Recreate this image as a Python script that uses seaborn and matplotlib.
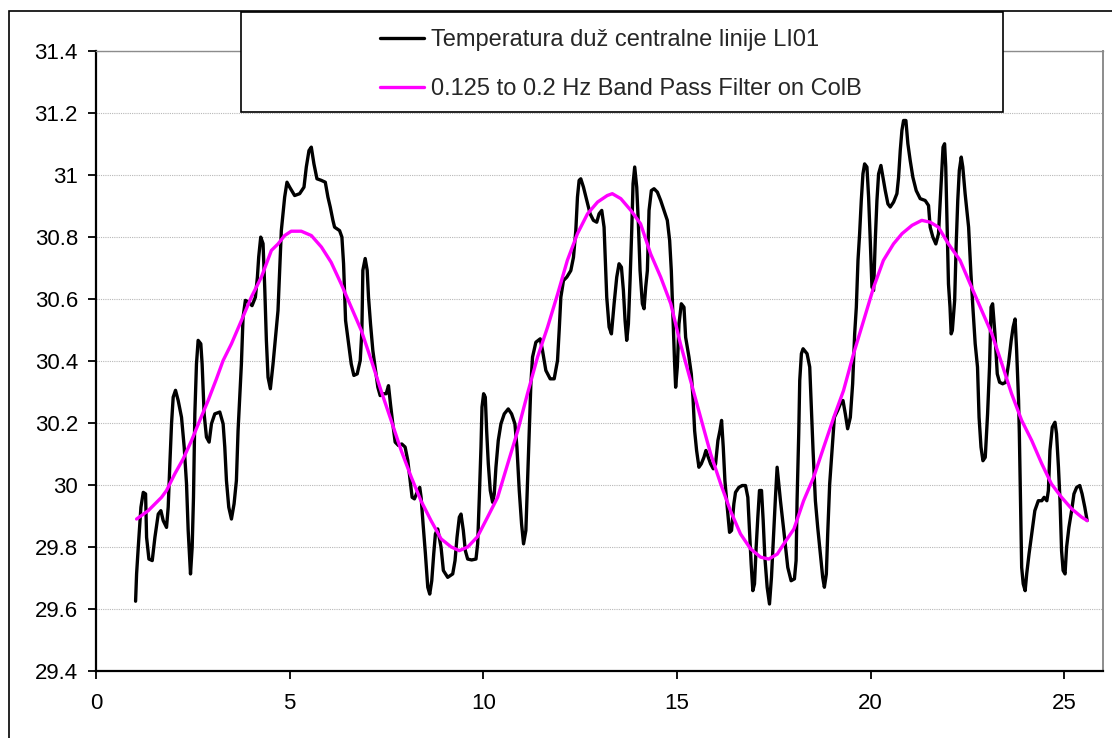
import matplotlib
matplotlib.use("Agg")
import matplotlib.pyplot as plt
from matplotlib.patches import Rectangle
from matplotlib.ticker import FuncFormatter
import pandas as pd
import seaborn as sns

# Measured temperature along the centre line (time in s, temperature)
time_s = [
    1.022, 1.048, 1.091, 1.160, 1.220, 1.280, 1.306, 1.366, 1.452, 1.521,
    1.607, 1.675, 1.735, 1.821, 1.864, 1.907, 1.950, 1.993, 2.053, 2.122,
    2.208, 2.277, 2.337, 2.380, 2.440, 2.483, 2.517, 2.552, 2.594, 2.637,
    2.706, 2.740, 2.792, 2.852, 2.921, 2.981, 3.067, 3.196, 3.282, 3.325,
    3.368, 3.428, 3.497, 3.565, 3.625, 3.668, 3.711, 3.754, 3.797, 3.857,
    3.943, 4.029, 4.115, 4.167, 4.201, 4.253, 4.313, 4.356, 4.399, 4.442,
    4.502, 4.571, 4.699, 4.785, 4.871, 4.931, 5.000, 5.129, 5.258, 5.370,
    5.430, 5.499, 5.559, 5.627, 5.705, 5.816, 5.920, 5.988, 6.048, 6.117,
    6.160, 6.289, 6.349, 6.392, 6.444, 6.521, 6.590, 6.658, 6.744, 6.822,
    6.865, 6.890, 6.950, 7.002, 7.036, 7.088, 7.148, 7.217, 7.277, 7.337,
    7.423, 7.492, 7.552, 7.603, 7.663, 7.724, 7.810, 7.895, 7.981, 8.050,
    8.110, 8.162, 8.222, 8.291, 8.359, 8.394, 8.445, 8.505, 8.566, 8.617,
    8.669, 8.720, 8.763, 8.823, 8.909, 8.969, 9.081, 9.210, 9.270, 9.321,
    9.381, 9.424, 9.484, 9.536, 9.596, 9.699, 9.811, 9.854, 9.897, 9.940,
    9.966, 10.008, 10.051, 10.086, 10.129, 10.180, 10.240, 10.283, 10.326, 10.386,
    10.455, 10.541, 10.644, 10.730, 10.816, 10.868, 10.928, 10.988, 11.039, 11.099,
    11.142, 11.185, 11.228, 11.271, 11.357, 11.469, 11.529, 11.615, 11.727, 11.830,
    11.916, 11.959, 12.002, 12.070, 12.156, 12.259, 12.328, 12.388, 12.431, 12.474,
    12.517, 12.586, 12.672, 12.758, 12.843, 12.929, 12.989, 13.058, 13.118, 13.187,
    13.248, 13.308, 13.377, 13.445, 13.505, 13.566, 13.617, 13.660, 13.703, 13.746,
    13.789, 13.832, 13.866, 13.909, 13.961, 14.004, 14.047, 14.107, 14.150, 14.193,
    14.236, 14.279, 14.339, 14.408, 14.494, 14.580, 14.665, 14.751, 14.811, 14.854,
    14.897, 14.940, 14.966, 15.009, 15.052, 15.112, 15.181, 15.224, 15.310, 15.370,
    15.413, 15.456, 15.507, 15.567, 15.628, 15.696, 15.748, 15.808, 15.868, 15.937,
    15.997, 16.057, 16.109, 16.152, 16.195, 16.238, 16.298, 16.358, 16.409, 16.469,
    16.512, 16.598, 16.684, 16.770, 16.830, 16.873, 16.916, 16.959, 17.002, 17.045,
    17.088, 17.131, 17.183, 17.226, 17.269, 17.329, 17.389, 17.440, 17.500, 17.543,
    17.586, 17.672, 17.758, 17.861, 17.947, 18.033, 18.076, 18.101, 18.144, 18.170,
    18.213, 18.256, 18.359, 18.428, 18.462, 18.514, 18.574, 18.634, 18.703, 18.763,
    18.806, 18.857, 18.892, 18.943, 19.003, 19.064, 19.149, 19.218, 19.287, 19.347,
    19.407, 19.476, 19.536, 19.588, 19.631, 19.674, 19.716, 19.759, 19.802, 19.845,
    19.905, 19.948, 19.991, 20.034, 20.077, 20.120, 20.163, 20.206, 20.266, 20.318,
    20.378, 20.447, 20.507, 20.593, 20.679, 20.722, 20.765, 20.808, 20.851, 20.911,
    20.962, 21.022, 21.091, 21.177, 21.280, 21.409, 21.495, 21.538, 21.607, 21.684,
    21.753, 21.82, 21.87, 21.91, 21.94, 21.98, 22.01, 22.05, 22.08, 22.11,
    22.17, 22.21, 22.25, 22.29, 22.34, 22.38, 22.44, 22.53, 22.59, 22.64,
    22.70, 22.76, 22.80, 22.85, 22.90, 22.96, 23.02, 23.07, 23.11, 23.15,
    23.21, 23.27, 23.33, 23.41, 23.49, 23.56, 23.63, 23.68, 23.73, 23.77,
    23.82, 23.84, 23.87, 23.90, 23.94, 23.99, 24.03, 24.09, 24.16, 24.24,
    24.33, 24.42, 24.48, 24.55, 24.59, 24.63, 24.69, 24.76, 24.80, 24.85,
    24.89, 24.93, 24.97, 25.02, 25.06, 25.12, 25.19, 25.25, 25.32, 25.40,
    25.46, 25.53, 25.59,
]
temperature = [
    29.625, 29.713, 29.799, 29.928, 29.976, 29.971, 29.831, 29.761, 29.756, 29.831,
    29.906, 29.917, 29.885, 29.863, 29.928, 30.068, 30.197, 30.283, 30.305, 30.272,
    30.218, 30.122, 30.004, 29.853, 29.713, 29.799, 29.960, 30.229, 30.390, 30.466,
    30.455, 30.390, 30.229, 30.154, 30.138, 30.197, 30.229, 30.235, 30.197, 30.122,
    30.014, 29.928, 29.890, 29.939, 30.014, 30.175, 30.283, 30.390, 30.541, 30.595,
    30.589, 30.578, 30.605, 30.670, 30.735, 30.799, 30.778, 30.638, 30.466, 30.347,
    30.310, 30.390, 30.562, 30.820, 30.928, 30.976, 30.960, 30.933, 30.939, 30.960,
    31.025, 31.078, 31.089, 31.035, 30.987, 30.982, 30.976, 30.928, 30.896, 30.853,
    30.831, 30.820, 30.799, 30.713, 30.530, 30.455, 30.390, 30.353, 30.358, 30.401,
    30.498, 30.692, 30.730, 30.692, 30.605, 30.519, 30.433, 30.369, 30.315, 30.288,
    30.294, 30.294, 30.320, 30.261, 30.197, 30.138, 30.127, 30.132, 30.122, 30.079,
    30.014, 29.960, 29.955, 29.976, 29.992, 29.960, 29.874, 29.778, 29.670, 29.648,
    29.691, 29.778, 29.842, 29.858, 29.799, 29.724, 29.702, 29.713, 29.756, 29.831,
    29.896, 29.906, 29.853, 29.788, 29.761, 29.758, 29.761, 29.810, 29.960, 30.122,
    30.251, 30.294, 30.283, 30.175, 30.068, 29.982, 29.944, 29.971, 30.057, 30.143,
    30.197, 30.229, 30.245, 30.229, 30.197, 30.122, 29.982, 29.874, 29.810, 29.853,
    30.014, 30.175, 30.326, 30.412, 30.460, 30.471, 30.433, 30.369, 30.342, 30.342,
    30.401, 30.498, 30.605, 30.659, 30.670, 30.691, 30.734, 30.820, 30.928, 30.982,
    30.987, 30.960, 30.917, 30.874, 30.853, 30.847, 30.874, 30.885, 30.831, 30.605,
    30.509, 30.487, 30.584, 30.670, 30.713, 30.702, 30.627, 30.530, 30.466, 30.519,
    30.659, 30.820, 30.971, 31.025, 30.960, 30.842, 30.691, 30.584, 30.568, 30.638,
    30.691, 30.885, 30.949, 30.955, 30.944, 30.917, 30.885, 30.853, 30.788, 30.691,
    30.541, 30.390, 30.315, 30.380, 30.519, 30.584, 30.573, 30.476, 30.412, 30.358,
    30.283, 30.175, 30.111, 30.057, 30.068, 30.089, 30.111, 30.089, 30.068, 30.052,
    30.068, 30.143, 30.175, 30.208, 30.122, 30.014, 29.928, 29.847, 29.853, 29.939,
    29.976, 29.992, 29.998, 29.998, 29.960, 29.853, 29.745, 29.659, 29.681, 29.799,
    29.896, 29.982, 29.982, 29.885, 29.767, 29.670, 29.616, 29.702, 29.853, 29.960,
    30.057, 29.949, 29.853, 29.734, 29.691, 29.697, 29.756, 29.949, 30.165, 30.337,
    30.423, 30.439, 30.423, 30.380, 30.272, 30.111, 29.949, 29.863, 29.777, 29.702,
    29.670, 29.713, 29.842, 30.003, 30.111, 30.218, 30.240, 30.261, 30.272, 30.229,
    30.181, 30.218, 30.326, 30.487, 30.573, 30.724, 30.810, 30.917, 31.003, 31.035,
    31.025, 30.928, 30.788, 30.638, 30.627, 30.788, 30.917, 31.003, 31.030, 30.992,
    30.949, 30.906, 30.896, 30.912, 30.939, 30.992, 31.078, 31.143, 31.175, 31.175,
    31.100, 31.046, 30.992, 30.949, 30.923, 30.917, 30.901, 30.831, 30.799, 30.777,
    30.810, 30.971, 31.089, 31.100, 31.025, 30.810, 30.648, 30.573, 30.487, 30.498,
    30.595, 30.777, 30.917, 31.014, 31.057, 31.025, 30.939, 30.831, 30.681, 30.573,
    30.455, 30.380, 30.218, 30.122, 30.078, 30.089, 30.229, 30.380, 30.573, 30.584,
    30.487, 30.358, 30.331, 30.326, 30.331, 30.390, 30.466, 30.509, 30.535, 30.433,
    30.272, 30.165, 29.949, 29.734, 29.681, 29.659, 29.713, 29.777, 29.842, 29.917,
    29.949, 29.949, 29.960, 29.949, 29.982, 30.111, 30.186, 30.202, 30.165, 30.057,
    29.949, 29.788, 29.724, 29.713, 29.799, 29.863, 29.917, 29.971, 29.992, 29.998,
    29.971, 29.928, 29.885,
]

# Band-pass filtered signal
filter_time = [
    1.048, 1.349, 1.692, 1.821, 2.036, 2.251, 2.466, 2.680, 2.895, 3.110,
    3.282, 3.497, 3.754, 4.012, 4.270, 4.528, 4.70, 4.87, 5.04, 5.30,
    5.56, 5.82, 6.07, 6.33, 6.59, 6.85, 7.11, 7.36, 7.62, 7.88,
    8.14, 8.39, 8.65, 8.91, 9.17, 9.38, 9.60, 9.85, 10.11, 10.37,
    10.63, 10.89, 11.14, 11.40, 11.66, 11.92, 12.17, 12.43, 12.69, 12.95,
    13.20, 13.33, 13.55, 13.81, 14.06, 14.32, 14.58, 14.84, 15.09, 15.35,
    15.61, 15.87, 16.13, 16.38, 16.64, 16.90, 17.16, 17.37, 17.59, 17.76,
    18.02, 18.27, 18.53, 18.79, 19.05, 19.30, 19.56, 19.82, 20.08, 20.33,
    20.59, 20.81, 21.07, 21.32, 21.54, 21.75, 22.01, 22.31, 22.57, 22.87,
    23.13, 23.39, 23.64, 23.90, 24.16, 24.42, 24.67, 24.93, 25.19, 25.45,
    25.59,
]
filter_temp = [
    29.890, 29.917, 29.960, 29.982, 30.036, 30.084, 30.143, 30.208, 30.272, 30.342,
    30.401, 30.455, 30.530, 30.606, 30.670, 30.756, 30.777, 30.804, 30.818, 30.818,
    30.804, 30.767, 30.718, 30.648, 30.573, 30.498, 30.401, 30.304, 30.208, 30.111,
    30.025, 29.949, 29.885, 29.826, 29.800, 29.788, 29.800, 29.833, 29.896, 29.960,
    30.068, 30.175, 30.294, 30.412, 30.509, 30.616, 30.724, 30.810, 30.874, 30.912,
    30.933, 30.939, 30.923, 30.885, 30.842, 30.745, 30.670, 30.584, 30.455, 30.337,
    30.218, 30.100, 30.003, 29.917, 29.842, 29.794, 29.767, 29.761, 29.777, 29.810,
    29.858, 29.949, 30.025, 30.122, 30.218, 30.304, 30.423, 30.530, 30.638, 30.724,
    30.777, 30.810, 30.837, 30.853, 30.847, 30.831, 30.777, 30.724, 30.648, 30.562,
    30.487, 30.390, 30.294, 30.208, 30.143, 30.068, 30.003, 29.960, 29.923, 29.896,
    29.885,
]

label_raw = "Temperatura duž centralne linije LI01"
label_filtered = "0.125 to 0.2 Hz Band Pass Filter on ColB"
x_ticks = [0, 5, 10, 15, 20, 25]
y_ticks = [29.4, 29.6, 29.8, 30.0, 30.2, 30.4, 30.6, 30.8, 31.0, 31.2, 31.4]

raw = pd.DataFrame({"time": time_s, "temp": temperature})
filtered = pd.DataFrame({"time": filter_time, "temp": filter_temp})

sns.set_theme(style="white")
plt.rcParams["font.family"] = ["Liberation Sans", "DejaVu Sans"]

W, H = 1112, 738
FS = 16
LW = 2.4
fig = plt.figure(figsize=(W / 100, H / 100), dpi=100)
fig.patch.set_facecolor("white")

# plot area
left, right, top, bottom = 96, 1103, 50.7, 671
ax = fig.add_axes([left / W, 1 - bottom / H, (right - left) / W, (bottom - top) / H])
ax.set_facecolor("white")

sns.lineplot(data=raw, x="time", y="temp", ax=ax, color="black", lw=LW,
             sort=False, estimator=None, label=label_raw, zorder=3)
sns.lineplot(data=filtered, x="time", y="temp", ax=ax, color="#FF00FF", lw=LW,
             sort=False, estimator=None, label=label_filtered, zorder=4)

ax.set_xlim(0, 26)
ax.set_ylim(29.4, 31.4)
ax.set_xticks(x_ticks)
ax.set_yticks(y_ticks)
ax.yaxis.set_major_formatter(FuncFormatter(lambda v, p: f"{round(v, 1):g}"))
ax.set_xlabel("")
ax.set_ylabel("")

ax.grid(axis="y", color="#b8b8b8", linestyle=(0, (1, 1)), lw=0.8)
ax.set_axisbelow(True)

ax.tick_params(axis="both", which="major", direction="out", length=6, width=1.3,
               color="black", labelsize=FS, labelcolor="black")
ax.tick_params(axis="y", pad=7, left=True)
ax.tick_params(axis="x", pad=10, bottom=True)

for side in ("left", "bottom"):
    ax.spines[side].set_color("black")
    ax.spines[side].set_linewidth(1.6)
ax.spines["top"].set_color("#8c8c8c")
ax.spines["top"].set_linewidth(1.0)
ax.spines["right"].set_color("#8c8c8c")
ax.spines["right"].set_linewidth(1.4)

handles, labels = ax.get_legend_handles_labels()
ax.get_legend().remove()

# outer chart frame (left and top edges visible)
fig.patches.append(Rectangle((9 / W, -0.2), 1.5, (1 - 11 / H) + 0.2,
                             transform=fig.transFigure, fill=False,
                             edgecolor="black", lw=1.2, zorder=1))
# legend box
fig.patches.append(Rectangle((241 / W, 1 - 111.7 / H), (1003 - 241) / W, 100 / H,
                             transform=fig.transFigure, facecolor="white",
                             edgecolor="black", lw=1.2, zorder=2))
for h in handles:
    h.set_linewidth(LW)
fig.legend(handles, labels, loc="center left",
           bbox_to_anchor=(380 / W, 1 - 64.5 / H), frameon=False,
           fontsize=17, handlelength=1.85, handletextpad=0.3,
           labelspacing=1.13, borderpad=0, borderaxespad=0)

fig.savefig("out.png", dpi=100, facecolor="white")
